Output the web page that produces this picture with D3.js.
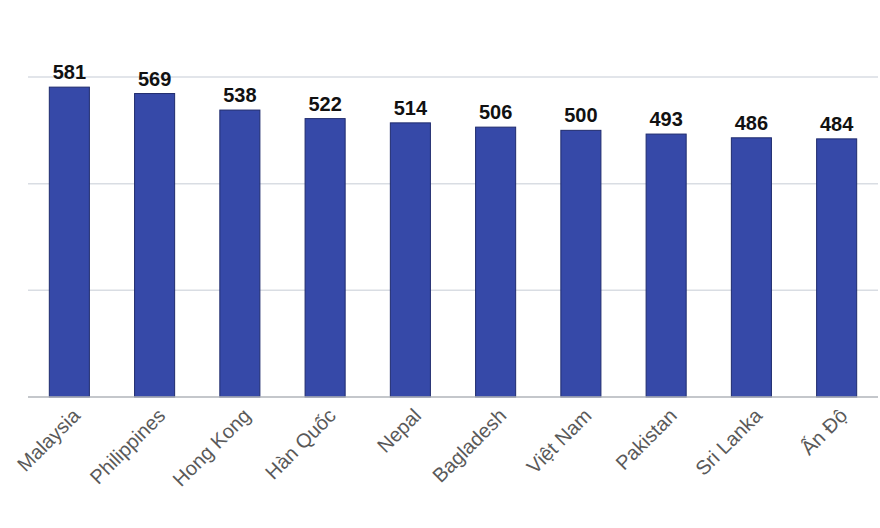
<!DOCTYPE html>
<html><head><meta charset="utf-8">
<script src="https://cdn.jsdelivr.net/npm/d3@7"></script>
<style>body{margin:0;background:#fff}</style></head>
<body><svg id="c" width="880" height="528"></svg>
<script>
const countries = ["Malaysia","Philippines","Hong Kong","Hàn Quốc","Nepal","Bagladesh","Việt Nam","Pakistan","Sri Lanka","Ấn Độ"];
const values = [581,569,538,522,514,506,500,493,486,484];
const gridTicks = [0,200,400,600];

const svg = d3.select("#c");
const x = d3.scaleBand().domain(countries).range([28,878]).paddingInner(0.53).paddingOuter(0.25);
const y = d3.scaleLinear().domain([0,600]).range([397,77]);

// lưới ngang
svg.selectAll(".grid").data(gridTicks.slice(1)).enter().append("line")
  .attr("x1",28).attr("x2",878).attr("y1",d=>y(d)).attr("y2",d=>y(d))
  .attr("stroke","#d9dde3").attr("stroke-width",1.5);

svg.selectAll(".bar").data(values).enter().append("rect")
  .attr("x",(d,i)=>x(countries[i])).attr("width",x.bandwidth())
  .attr("y",d=>y(d)).attr("height",d=>y(0)-y(d))
  .attr("fill","#3649a8").attr("stroke","#1f2b6e").attr("stroke-width",1);

svg.append("line").attr("x1",28).attr("x2",878).attr("y1",y(0)).attr("y2",y(0))
  .attr("stroke","#b0b4ba").attr("stroke-width",1.5);

svg.selectAll(".val").data(values).enter().append("text")
  .attr("x",(d,i)=>x(countries[i])+x.bandwidth()/2).attr("y",d=>y(d)-8)
  .attr("text-anchor","middle").attr("font-family","Liberation Sans, Arial")
  .attr("font-weight","bold").attr("font-size",20).attr("fill","#111").text(d=>d);

svg.selectAll(".lab").data(countries).enter().append("text")
  .attr("transform",d=>`translate(${x(d)+x.bandwidth()/2+12},${y(0)+20}) rotate(-45)`)
  .attr("text-anchor","end").attr("font-family","Liberation Sans, Arial")
  .attr("font-size",20).attr("fill","#595959").text(d=>d);
</script></body></html>
